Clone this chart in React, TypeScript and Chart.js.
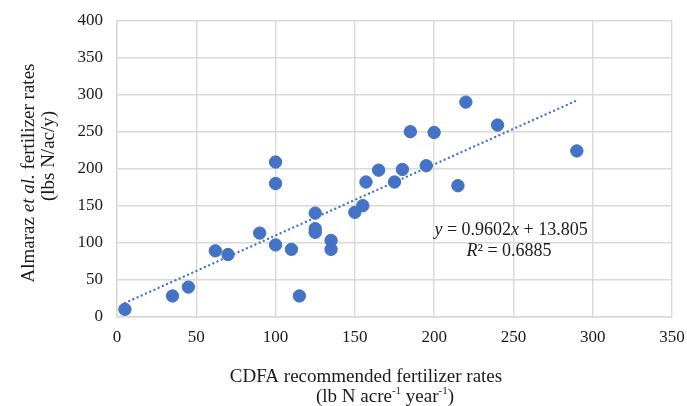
import { useEffect, useRef } from "react";
import { Chart, registerables } from "chart.js";

Chart.register(...registerables);

// ---- data ----
const cdfaRates = [5, 35, 45, 62, 70, 90, 100, 100, 100, 110, 115, 125, 125, 125, 135, 135, 150, 155, 157, 165, 175, 180, 185, 195, 200, 215, 220, 240, 290];
const almarazRates = [10, 28, 40, 89, 84, 113, 209, 180, 97, 91, 28, 140, 119, 114, 103, 91, 141, 150, 182, 198, 182, 199, 250, 204, 249, 177, 290, 259, 224];
const xTickValues = [0, 50, 100, 150, 200, 250, 300, 350];
const yTickValues = [0, 50, 100, 150, 200, 250, 300, 350, 400];
const trendSlope = 0.9602;
const trendIntercept = 13.805;
const rSquared = "0.6885";

const SERIF = "'Liberation Serif', 'Times New Roman', serif";

type Run = { t: string; italic?: boolean; sup?: boolean };

function runFont(r: Run, size: number) {
  return `${r.italic ? "italic " : ""}${r.sup ? Math.round(size * 0.6) : size}px ${SERIF}`;
}

function drawRuns(ctx: CanvasRenderingContext2D, runs: Run[], cx: number, cy: number, size: number) {
  let total = 0;
  const widths: number[] = [];
  for (const r of runs) {
    ctx.font = runFont(r, size);
    const w = ctx.measureText(r.t).width;
    widths.push(w);
    total += w;
  }
  let x = cx - total / 2;
  ctx.textAlign = "left";
  ctx.textBaseline = "middle";
  runs.forEach((r, i) => {
    ctx.font = runFont(r, size);
    ctx.fillText(r.t, x, r.sup ? cy - size * 0.33 : cy);
    x += widths[i];
  });
}

const annotationPlugin = {
  id: "annotations",
  afterDraw(chart: any) {
    const ctx: CanvasRenderingContext2D = chart.ctx;
    const xs = chart.scales.x;
    const ys = chart.scales.y;
    ctx.save();
    ctx.fillStyle = "#1a1a1a";

    // equation
    const ex = xs.getPixelForValue(248.5);
    const ey = ys.getPixelForValue(117);
    drawRuns(ctx, [{ t: "y", italic: true }, { t: " = 0.9602" }, { t: "x", italic: true }, { t: " + 13.805" }], ex, ey, 18);
    drawRuns(ctx, [{ t: "R", italic: true }, { t: "²" }, { t: " = " + rSquared }], ex - 2, ey + 21, 18);

    // x axis title
    drawRuns(ctx, [{ t: "CDFA recommended fertilizer rates" }], 366, 377, 19);
    drawRuns(
      ctx,
      [{ t: "(lb N acre" }, { t: "-1", sup: true }, { t: " year" }, { t: "-1", sup: true }, { t: ")" }],
      385,
      397,
      19
    );

    // y axis title (rotated)
    ctx.translate(29, 173);
    ctx.rotate(-Math.PI / 2);
    drawRuns(ctx, [{ t: "Almaraz " }, { t: "et al.", italic: true }, { t: " fertilizer rates" }], 0, 0, 19);
    drawRuns(ctx, [{ t: "(lbs N/ac/y)" }], 17, 20, 19);
    ctx.restore();
  },
};

export default function App() {
  const ref = useRef<HTMLCanvasElement>(null);

  useEffect(() => {
    document.body.style.margin = "0";
    if (!ref.current) return;
    const points = cdfaRates.map((x, i) => ({ x, y: almarazRates[i] }));
    const xMin = Math.min(...cdfaRates);
    const xMax = Math.max(...cdfaRates);
    const trend = [xMin, xMax].map((x) => ({ x, y: trendSlope * x + trendIntercept }));

    const chart = new Chart(ref.current, {
      type: "scatter",
      data: {
        datasets: [
          {
            type: "line",
            data: trend,
            borderColor: "#4472C4",
            borderWidth: 2.4,
            borderDash: [0.01, 4.6],
            borderCapStyle: "round",
            pointRadius: 0,
            fill: false,
            order: 2,
          } as any,
          {
            data: points,
            backgroundColor: "#4472C4",
            borderColor: "#4472C4",
            pointRadius: 6.2,
            pointHoverRadius: 6.2,
            order: 1,
          },
        ],
      },
      plugins: [annotationPlugin],
      options: {
        animation: false,
        responsive: true,
        maintainAspectRatio: false,
        events: [],
        layout: { padding: { top: 20.7, right: 15, left: 0, bottom: 0 } },
        plugins: { legend: { display: false }, tooltip: { enabled: false }, title: { display: false } },
        scales: {
          x: {
            type: "linear",
            min: 0,
            max: 350,
            afterBuildTicks: (s: any) => {
              s.ticks = xTickValues.map((v) => ({ value: v }));
            },
            afterFit: (s: any) => {
              s.height = 89.3;
              s.paddingLeft = 0;
              s.paddingRight = 0;
            },
            grid: { color: "#d9d9d9", lineWidth: 1.4, drawTicks: false },
            border: { color: "#d9d9d9", width: 1.4 },
            ticks: { padding: 11, color: "#1a1a1a", font: { family: SERIF, size: 17 } },
          },
          y: {
            type: "linear",
            min: 0,
            max: 400,
            afterBuildTicks: (s: any) => {
              s.ticks = yTickValues.map((v) => ({ value: v }));
            },
            afterFit: (s: any) => {
              s.width = 117;
              s.paddingTop = 0;
              s.paddingBottom = 0;
            },
            grid: { color: "#d9d9d9", lineWidth: 1.4, drawTicks: false },
            border: { color: "#d9d9d9", width: 1.4 },
            ticks: { padding: 14, color: "#1a1a1a", font: { family: SERIF, size: 17 } },
          },
        },
      },
    });
    return () => chart.destroy();
  }, []);

  return (
    <div style={{ width: 687, height: 406, position: "relative", background: "#fff" }}>
      <canvas ref={ref} />
    </div>
  );
}
